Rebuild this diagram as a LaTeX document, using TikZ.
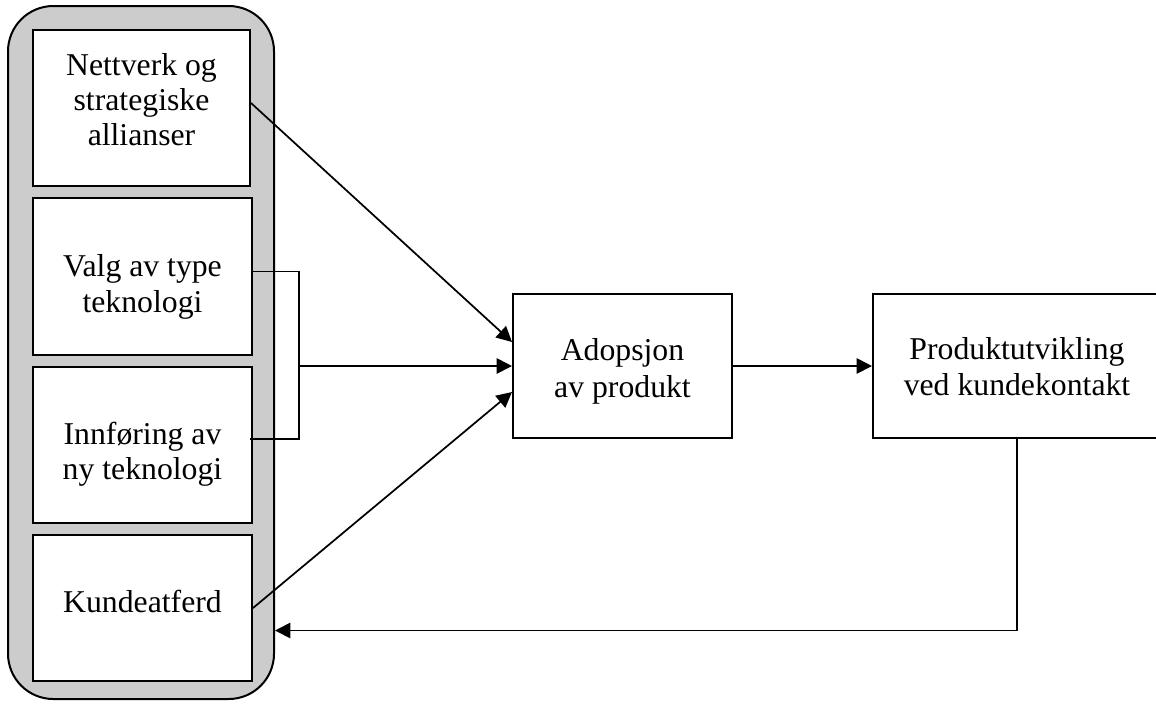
\documentclass[tikz,border=0pt]{standalone}
\usepackage{fontspec}
\setmainfont{Liberation Serif}
\usetikzlibrary{arrows.meta,calc}
\tikzset{
  box/.style={draw=black, line width=1.5pt, fill=white, inner sep=0pt},
  txt/.style={inner sep=0pt, anchor=base, font=\fontsize{23.8}{28}\selectfont},
  conn/.style={draw=black, line width=1.3pt},
  arr/.style={conn, -{Triangle[length=11.5pt,width=11.5pt]}},
  panel/.style={draw=black, line width=1.5pt, fill=black!20, rounded corners=34pt}
}
\begin{document}
\begin{tikzpicture}[x=0.75pt,y=-0.75pt]
\useasboundingbox (0,0) rectangle (1156,704);
% outer rounded panel
\node[panel, minimum width=266*0.75pt, minimum height=693*0.75pt] (outer) at (141,352.5) {};
% inner boxes
\node[box, minimum width=217*0.75pt, minimum height=156*0.75pt] (b1) at (141.5,108) {};
\node[box, minimum width=219*0.75pt, minimum height=157*0.75pt] (b2) at (142.5,276.5) {};
\node[box, minimum width=219*0.75pt, minimum height=156*0.75pt] (b3) at (142.5,445) {};
\node[box, minimum width=219*0.75pt, minimum height=146*0.75pt] (b4) at (142.5,608) {};
\node[box, minimum width=219*0.75pt, minimum height=144*0.75pt] (ad) at (622.5,366) {};
\node[box, minimum width=288*0.75pt, minimum height=144*0.75pt] (pu) at (1017,366) {};
% texts
\node[txt] (t1a) at (141.5,75) {Nettverk og};
\node[txt] (t1b) at (141.5,110) {strategiske};
\node[txt] (t1c) at (141.5,145) {allianser};
\node[txt] (t2a) at (142.5,276) {Valg av type};
\node[txt] (t2b) at (142.5,312) {teknologi};
\node[txt] (t3a) at (142.5,444) {Innføring av};
\node[txt] (t3b) at (142.5,479) {ny teknologi};
\node[txt] (t4a) at (142.5,612) {Kundeatferd};
\node[txt] (tad1) at (622.5,360) {Adopsjon};
\node[txt] (tad2) at (622.5,397) {av produkt};
\node[txt] (tpu1) at (1017,359) {Produktutvikling};
\node[txt] (tpu2) at (1017,395) {ved kundekontakt};
% connectors
\draw[arr] ($(b1.east)+(0,-5)$) -- ($(ad.west)+(0,-24)$);
\coordinate (brT) at ($(b2.east)+(46,-5)$);
\coordinate (brB) at ($(b3.east)+(46,-6)$);
\draw[conn] ($(b2.east)+(0,-5)$) -- (brT) -- (brB) -- ($(b3.east)+(-3,-6)$);
\draw[arr] (brT |- ad.west) -- (ad.west);
\draw[arr] (b4.east) -- ($(ad.west)+(0,26)$);
\draw[arr] (ad.east) -- (pu.west);
\coordinate (fb) at ($(outer.east)+(0,278)$);
\draw[arr] (pu.south) -- (pu.south |- fb) -- (fb);
\end{tikzpicture}
\end{document}
